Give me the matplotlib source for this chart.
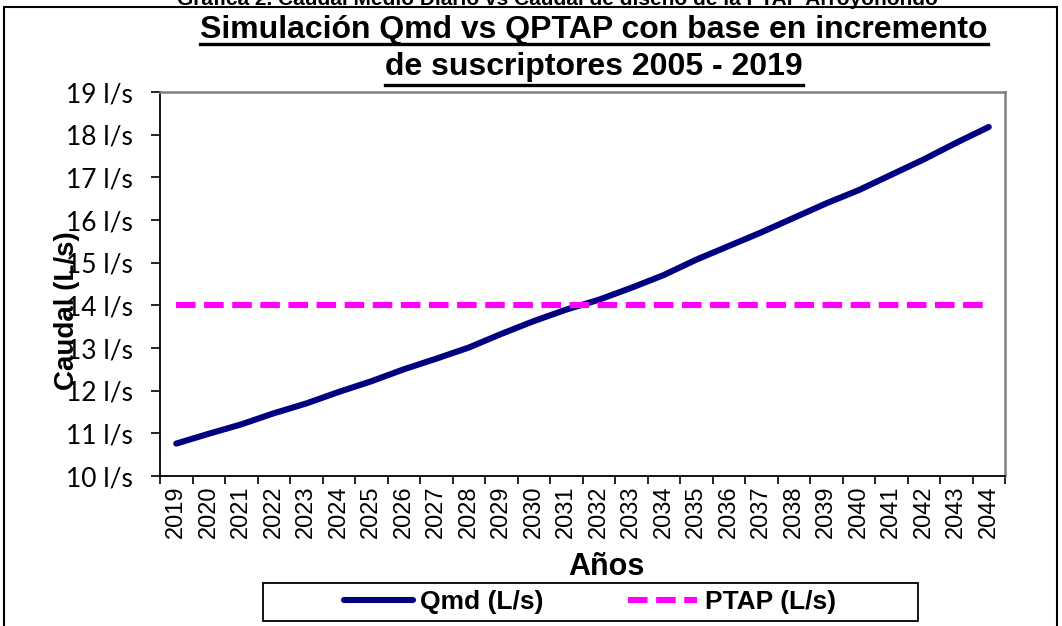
import matplotlib
matplotlib.use("Agg")
from matplotlib import pyplot as plt
from matplotlib.patches import Rectangle
from matplotlib.lines import Line2D

years = [str(y) for y in range(2019, 2045)]
qmd = [10.76, 10.99, 11.21, 11.47, 11.70, 11.97, 12.22, 12.50, 12.75, 13.01,
       13.33, 13.63, 13.90, 14.13, 14.41, 14.71, 15.07, 15.39, 15.71, 16.05,
       16.39, 16.70, 17.06, 17.42, 17.81, 18.18]
ptap = [14, 14, 14, 14, 14, 14, 14, 14, 14, 14, 14, 14, 14,
        14, 14, 14, 14, 14, 14, 14, 14, 14, 14, 14, 14, 14]
y_ticks = [10, 11, 12, 13, 14, 15, 16, 17, 18, 19]

W, H = 1062, 626
ARIAL = "Liberation Sans"

fig = plt.figure(figsize=(W / 100, H / 100), dpi=100)
fig.patch.set_facecolor("white")
ax = fig.add_axes([160 / W, 1 - 476 / H, 845 / W, 384 / H])

x = list(range(len(years)))
ax.plot(x, qmd, color="#000080", lw=4.4, solid_capstyle="round", label="Qmd (L/s)")
ax.plot(x, ptap, color="#FF00FF", lw=4.4, linestyle=(0, (3.2, 1.4)), label="PTAP (L/s)")

ax.set_xlim(-0.5, len(years) - 0.5)
ax.set_ylim(10, 19)

# category labels in the middle, tick marks between categories (excel style)
ax.set_xticks(x)
ax.set_xticklabels(years, rotation=90, fontsize=17, family=ARIAL)
ax.set_xticks([i - 0.5 for i in range(len(years) + 1)], minor=True)
ax.tick_params(axis="x", which="major", length=0, pad=7)
ax.tick_params(axis="x", which="minor", length=6, width=1.2, direction="out")

ax.set_yticks(y_ticks)
ax.set_yticklabels([f"{v} l/s" for v in y_ticks], fontsize=19, family="Lato")
ax.tick_params(axis="y", length=6.5, width=1.2, pad=13)

for s in ("left", "bottom"):
    ax.spines[s].set_color("black")
    ax.spines[s].set_linewidth(1.3)
for s in ("top", "right"):
    ax.spines[s].set_color("#808080")
    ax.spines[s].set_linewidth(1.8)

# axis titles
fig.text(67 / W, 1 - 311 / H, "Caudal (L/s)", rotation=90, ha="center", va="center",
         fontsize=20, fontweight="bold", family=ARIAL)
fig.text(606 / W, 1 - 567 / H, "Años", ha="center", va="center",
         fontsize=22, fontweight="bold", family=ARIAL)

# caption cut off at the top of the picture
fig.text(557 / W, 1 - 5 / H, "Gráfica 2. Caudal Medio Diario vs Caudal de diseño de la PTAP Arroyohondo",
         ha="center", va="baseline", fontsize=15, fontweight="bold", family=ARIAL)

# underlined title, two lines
t1 = fig.text(594 / W, 1 - 38 / H, "Simulación Qmd vs QPTAP con base en incremento",
              ha="center", va="baseline", fontsize=23, fontweight="bold", family=ARIAL)
t2 = fig.text(594 / W, 1 - 75 / H, "de suscriptores 2005 - 2019",
              ha="center", va="baseline", fontsize=23, fontweight="bold", family=ARIAL)
fig.canvas.draw()
r = fig.canvas.get_renderer()
for t, uy in ((t1, 43.5), (t2, 85)):
    bb = t.get_window_extent(r)
    fig.add_artist(Line2D([bb.x0 / W, bb.x1 / W], [1 - uy / H, 1 - uy / H],
                          color="black", lw=2.4, transform=fig.transFigure))

# outer border of the chart object (bottom edge is outside the picture)
fig.add_artist(Rectangle((4 / W, -0.05), 1053 / W, 1.05 - 7 / H, transform=fig.transFigure,
                         fill=False, edgecolor="black", lw=1.5))

# legend
fig.add_artist(Rectangle((263 / W, 1 - 621 / H), 655 / W, 38 / H, transform=fig.transFigure,
                         fill=False, edgecolor="black", lw=1.3))
fig.legend(loc="center", bbox_to_anchor=(590 / W, 1 - 602 / H), ncol=2, frameon=False,
           prop={"family": ARIAL, "weight": "bold", "size": 19},
           handlelength=2.6, handletextpad=0.3, columnspacing=3.2)

fig.savefig("out.png", dpi=100)
